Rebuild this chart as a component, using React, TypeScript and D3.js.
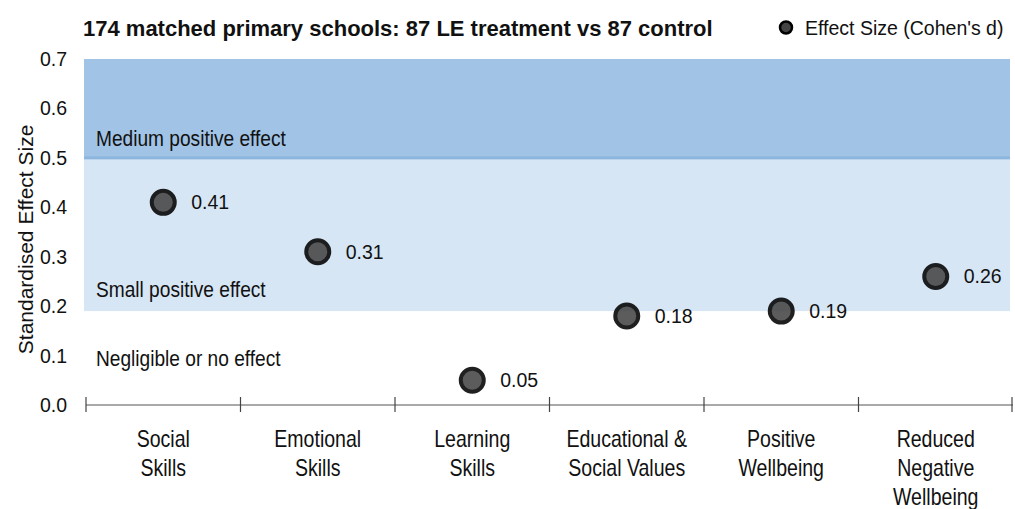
import { useEffect, useRef } from 'react';
import * as d3 from 'd3';

const categories = [
  ['Social', 'Skills'],
  ['Emotional', 'Skills'],
  ['Learning', 'Skills'],
  ['Educational &', 'Social Values'],
  ['Positive', 'Wellbeing'],
  ['Reduced', 'Negative', 'Wellbeing'],
];
const effectSizes = [0.41, 0.31, 0.05, 0.18, 0.19, 0.26];
const yTicks = [0, 0.1, 0.2, 0.3, 0.4, 0.5, 0.6, 0.7];
const bands = [
  { from: 0.19, to: 0.5, fill: '#d7e6f4', label: 'Small positive effect', labelAt: 0.218 },
  { from: 0.5, to: 0.7, fill: '#a1c3e5', label: 'Medium positive effect', labelAt: 0.523 },
];
const noEffectLabel = { label: 'Negligible or no effect', labelAt: 0.079 };

const title = '174 matched primary schools: 87 LE treatment vs 87 control';
const legendLabel = "Effect Size (Cohen's d)";
const yTitle = 'Standardised Effect Size';

export default function App() {
  const svgRef = useRef<SVGSVGElement>(null);

  useEffect(() => {
    if (!svgRef.current) return;
    const width = 1015;
    const height = 509;
    const margin = { top: 59, right: 2, bottom: 104, left: 86 };

    const svg = d3.select(svgRef.current);
    svg.selectAll('*').remove();
    svg.attr('width', width).attr('height', height);

    const font = '"Liberation Sans", Arial, sans-serif';

    // text with a slight horizontal squeeze, like the original
    const label = (tx: number, ty: number, txt: string, size: number, sx = 1, anchor = 'start') =>
      svg.append('text')
        .attr('transform', `translate(${tx},${ty}) scale(${sx},1)`)
        .attr('text-anchor', anchor)
        .attr('font-family', font)
        .attr('font-size', `${size}px`)
        .attr('fill', '#111')
        .text(txt);

    const x = d3.scaleBand<number>()
      .domain(d3.range(categories.length))
      .range([margin.left, width - margin.right]);
    const y = d3.scaleLinear().domain([0, 0.7]).range([height - margin.bottom, margin.top]);

    const bandLeft = 84;
    const bandRight = 1010;

    // bands
    bands.forEach(b => {
      svg.append('rect')
        .attr('x', bandLeft)
        .attr('y', y(b.to))
        .attr('width', bandRight - bandLeft)
        .attr('height', y(b.from) - y(b.to))
        .attr('fill', b.fill);
    });
    svg.append('rect')
      .attr('x', bandLeft)
      .attr('y', y(0.5) - 1.5)
      .attr('width', bandRight - bandLeft)
      .attr('height', 3)
      .attr('fill', '#8db6de');

    [...bands, noEffectLabel].forEach(b => {
      label(96, y(b.labelAt), b.label, 22.5, 0.85);
    });

    // x axis
    const y0 = y(0);
    svg.append('line')
      .attr('x1', margin.left).attr('x2', width - margin.right)
      .attr('y1', y0).attr('y2', y0)
      .attr('stroke', '#555').attr('stroke-width', 1.2);
    const tickXs = d3.range(categories.length).map(i => x(i)!).concat([width - margin.right - 1]);
    tickXs.forEach(tx => {
      svg.append('line')
        .attr('x1', tx).attr('x2', tx)
        .attr('y1', y0 - 8).attr('y2', y0 + 7)
        .attr('stroke', '#444').attr('stroke-width', 1.2);
    });

    categories.forEach((lines, i) => {
      const cx = x(i)! + x.bandwidth() / 2;
      lines.forEach((l, j) => {
        label(cx, 447 + j * 29, l, 23, 0.85, 'middle');
      });
    });

    // y tick labels
    yTicks.forEach(v => {
      label(67, y(v) + 7, d3.format('.1f')(v), 19.5, 1, 'end');
    });

    svg.append('text')
      .attr('transform', `translate(33,${y(0.335)}) rotate(-90)`)
      .attr('text-anchor', 'middle')
      .attr('font-family', font)
      .attr('font-size', '21px')
      .attr('fill', '#111')
      .text(yTitle);

    // points
    effectSizes.forEach((v, i) => {
      const cx = x(i)! + x.bandwidth() / 2;
      svg.append('circle')
        .attr('cx', cx)
        .attr('cy', y(v))
        .attr('r', 11.5)
        .attr('fill', '#444')
        .attr('stroke', '#000')
        .attr('stroke-width', 4)
        .attr('opacity', 0.87);
      label(cx + 28, y(v) + 7, d3.format('.2f')(v), 19.5);
    });

    // title & legend
    svg.append('text')
      .attr('x', 83)
      .attr('y', 36)
      .attr('font-family', font)
      .attr('font-size', '22px')
      .attr('font-weight', 'bold')
      .attr('fill', '#111')
      .text(title);

    svg.append('circle')
      .attr('cx', 786).attr('cy', 27.5).attr('r', 6)
      .attr('fill', '#444').attr('stroke', '#000').attr('stroke-width', 2.5);
    label(805, 35, legendLabel, 19.5, 1);
  }, []);

  return <svg ref={svgRef} style={{ position: 'absolute', left: 0, top: 0 }} />;
}
